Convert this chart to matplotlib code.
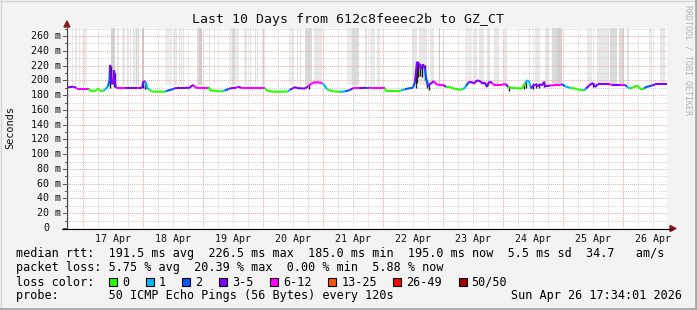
import numpy as np
import matplotlib
matplotlib.use('Agg')
import matplotlib.pyplot as plt
from matplotlib.collections import LineCollection
from matplotlib.patches import Rectangle, Polygon
from matplotlib.transforms import blended_transform_factory

W, H = 697, 310
MONO = 'DejaVu Sans Mono'

# hours since Apr 16 17:34, median rtt in ms, loss class index
rtt_hours = [0.0, 2.7, 3.6, 4.0, 8.7, 9.3, 11.1, 11.6, 12.0, 12.6, 13.3, 14.7, 15.3, 16.4,
             17.0, 17.2, 17.6, 18.4, 18.8, 19.2, 19.6, 21.6, 23.2, 23.6, 28.0, 28.8, 30.0,
             30.6, 31.4, 32.0, 32.8, 34.0, 39.2, 39.6, 42.7, 43.2, 49.2, 50.0, 50.8, 51.4,
             56.4, 56.8, 57.2, 58.0, 61.2, 62.4, 63.2, 64.8, 65.6, 67.6, 68.4, 69.6, 71.2,
             79.2, 80.0, 83.2, 88.4, 89.2, 90.4, 91.2, 92.0, 95.2, 96.4, 97.6, 98.4, 100.4,
             102.0, 102.8, 104.0, 106.0, 109.2, 111.2, 113.2, 114.4, 116.8, 119.6, 120.8,
             123.2, 127.2, 127.6, 132.4, 133.6, 135.2, 136.4, 138.4, 139.2, 140.0, 140.8,
             141.6, 142.4, 143.2, 143.8, 144.4, 145.2, 146.0, 146.8, 147.6, 149.2, 150.8,
             151.6, 152.8, 155.2, 157.2, 158.4, 159.6, 160.4, 161.6, 162.8, 164.0, 165.2,
             166.4, 167.2, 168.0, 168.8, 170.0, 170.8, 173.2, 174.4, 175.6, 176.4, 177.2,
             182.0, 183.2, 184.0, 184.8, 185.6, 186.4, 187.6, 188.4, 189.2, 190.0, 190.8,
             191.2, 193.2, 194.8, 197.2, 198.0, 199.2, 201.2, 203.2, 205.2, 206.8, 207.6,
             208.8, 210.4, 211.2, 212.4, 216.8, 218.0, 221.2, 223.2, 224.0, 225.2, 226.4,
             228.0, 229.2, 230.8, 231.6, 234.0, 235.2, 240.0]
rtt_ms = [190.5, 191.5, 190, 189, 189, 186, 185.5, 186.5, 188.5, 188, 185.5, 186, 188, 192,
          200, 221, 198, 195, 214, 196, 190, 189.5, 189.5, 190, 190, 189.5, 190,
          199, 198, 190, 188, 185, 184.5, 185.5, 188.5, 189.5, 190, 193.5, 193, 190,
          189.5, 191, 186, 186.5, 185, 185.5, 186.5, 188.5, 189.5, 190, 191.5, 190, 189.5,
          189.5, 186, 184.5, 185, 187.5, 189.5, 191, 189.5, 189, 192, 195, 197, 197.5,
          196.5, 194, 188, 185.5, 184.5, 185, 187, 189.5, 189.5, 190, 190,
          189.5, 189.5, 185, 185, 186.5, 188, 189, 190, 198, 225, 223,
          215, 222, 215, 200, 192, 195, 197, 199, 195, 193.5, 193.5,
          191, 191, 188.5, 187.5, 188, 192, 197, 198, 196, 200, 199,
          195.5, 197, 191, 198, 197, 193.5, 193.5, 194.5, 195, 191, 190,
          189, 196, 200, 199, 189, 193, 194.5, 192, 195, 193, 198,
          192, 193, 193.5, 193.5, 195, 192, 190, 189, 187, 186.5, 189,
          193, 196.5, 191, 195, 195, 194, 194, 194, 191.5, 189, 190.5,
          193, 189, 189, 191, 193, 194.5, 194.5]
rtt_loss = [3, 3, 3, 4, 4, 0, 0, 0, 0, 0, 0, 0, 1, 1,
            2, 2, 3, 3, 3, 3, 3, 4, 4, 3, 3, 4, 3,
            3, 3, 1, 1, 0, 0, 1, 2, 3, 3, 3, 3, 4,
            4, 3, 0, 0, 0, 0, 1, 2, 3, 3, 4, 3, 4,
            4, 0, 0, 0, 1, 3, 3, 3, 3, 3, 4, 4, 4,
            4, 1, 1, 0, 0, 1, 2, 3, 4, 3, 2,
            4, 4, 0, 0, 0, 1, 2, 2, 2, 3, 3,
            3, 3, 3, 2, 2, 3, 3, 3, 4, 4, 4,
            3, 0, 0, 0, 0, 1, 2, 3, 3, 3, 3,
            3, 3, 3, 3, 3, 4, 4, 4, 4, 3, 0,
            0, 0, 1, 1, 1, 3, 3, 3, 3, 3, 3,
            3, 3, 4, 4, 4, 2, 1, 0, 0, 0, 1,
            3, 3, 3, 3, 3, 4, 3, 4, 2, 1, 0,
            0, 0, 0, 2, 2, 3, 3]

loss_labels = ['0', '1', '2', '3-5', '6-12', '13-25', '26-49', '50/50']
loss_colors = ['#26ff00', '#00b8ff', '#0059ff', '#7e00ff', '#ff00ff', '#ff5500', '#ff0000', '#a10000']

# smoke stripes reaching past the top: start hour, end hour, grey level
smoke_start = [1.8, 3.3, 4.7, 6.7, 17.6, 20.0, 22.0, 24.0, 25.2, 26.2, 26.7, 27.6, 28.4, 30.0,
               39.3, 42.7, 44.7, 45.6, 46.4, 52.0, 52.8, 56.7, 58.7, 64.7, 66.0, 70.7, 73.3,
               74.2, 75.0, 76.0, 78.0, 88.7, 92.0, 93.0, 95.3, 98.7, 112.0, 114.0, 119.3,
               121.3, 124.0, 138.0, 140.7, 145.3, 148.7, 159.3, 162.7, 164.7, 168.0, 170.7,
               174.7, 184.7, 187.3, 191.3, 194.0, 196.0, 208.0, 212.0, 217.3, 220.7, 224.0,
               232.7, 237.3]
smoke_end = [2.2, 4.1, 5.0, 8.0, 19.2, 20.9, 23.3, 24.4, 25.6, 26.6, 28.9, 28.0, 28.8, 30.8,
             42.0, 44.0, 45.1, 46.0, 46.8, 54.0, 54.0, 57.1, 59.1, 68.7, 67.2, 72.0, 73.7,
             74.6, 75.4, 76.4, 79.3, 90.7, 92.4, 93.4, 98.0, 102.0, 116.7, 116.7, 120.0,
             123.3, 125.3, 140.0, 144.0, 146.7, 149.3, 162.0, 164.0, 166.7, 169.3, 172.7,
             176.0, 185.3, 189.3, 192.7, 196.0, 198.0, 210.0, 216.7, 220.0, 222.7, 224.7,
             234.0, 239.3]
smoke_grey = [0.91, 0.91, 0.89, 0.92, 0.82, 0.91, 0.91, 0.89, 0.89, 0.89, 0.93, 0.84, 0.84, 0.82,
              0.93, 0.91, 0.89, 0.89, 0.89, 0.87, 0.80, 0.89, 0.91, 0.93, 0.86, 0.91, 0.89,
              0.89, 0.89, 0.89, 0.91, 0.93, 0.89, 0.89, 0.86, 0.91, 0.93, 0.86, 0.89,
              0.92, 0.91, 0.91, 0.91, 0.91, 0.78, 0.93, 0.91, 0.91, 0.91, 0.91,
              0.91, 0.89, 0.91, 0.91, 0.86, 0.82, 0.92, 0.91, 0.86, 0.86, 0.89,
              0.92, 0.91]
smoke_floor = 194

# dense dark smoke near the spikes
dark_hours = [17.0, 17.4, 18.6, 19.0, 30.4, 31.0, 31.6, 96.6, 139.4, 139.8, 140.4, 141.2,
              142.0, 143.0, 143.8, 144.8, 176.6, 182.8, 183.4, 186.4, 187.6, 188.8, 190.7, 210.4]
dark_lo = [190, 196, 191, 193, 190, 189, 190, 189, 190, 196, 205, 206,
           205, 200, 190, 187, 186, 189, 190, 189, 190, 190, 191, 191]
dark_hi = [221, 219, 213, 210, 199, 197, 198, 195, 216, 226, 225, 222,
           222, 221, 200, 196, 193, 197, 199, 196, 196, 195, 199, 196]

day_labels = ['17 Apr', '18 Apr', '19 Apr', '20 Apr', '21 Apr',
              '22 Apr', '23 Apr', '24 Apr', '25 Apr', '26 Apr']
y_values = list(range(0, 261, 20))

title = 'Last 10 Days from 612c8feeec2b to GZ_CT'
line_rtt = 'median rtt:  191.5 ms avg  226.5 ms max  185.0 ms min  195.0 ms now  5.5 ms sd  34.7   am/s'
line_loss = 'packet loss: 5.75 % avg  20.39 % max  0.00 % min  5.88 % now'
line_probe = 'probe:       50 ICMP Echo Pings (56 Bytes) every 120s'
stamp = 'Sun Apr 26 17:34:01 2026'

start_hour = 17 + 34 / 60.0   # clock time at the left edge
span = 240.0
ymax = 271


def fx(x):
    return x / W


def fy(y):
    return 1 - y / H


fig = plt.figure(figsize=(W / 100, H / 100), dpi=100, facecolor='#f3f3f3')
ax = fig.add_axes([fx(67), fy(228), 600 / W, 200 / H])
ax.set_facecolor('white')
ax.set_xlim(0, span)
ax.set_ylim(0, ymax)
for s in ax.spines.values():
    s.set_visible(False)
ax.set_xticks([])
ax.set_yticks([])

# grid
first_mid = 24 - start_hour
h = first_mid - 18
while h < span:
    if h > 0:
        major = abs(((h - first_mid) / 24) - round((h - first_mid) / 24)) < 1e-6
        ax.axvline(h, color='#f2a0a0' if major else '#d4d4d4', lw=0.75,
                   ls=(0, (1, 1)), zorder=2)
    h += 6
for v in range(10, ymax, 10):
    ax.axhline(v, color='#eeaaaa' if v % 20 == 0 else '#d4d4d4', lw=0.75,
               ls=(0, (1, 1)), zorder=2)

# smoke
widths = np.subtract(smoke_end, smoke_start)
ax.bar(smoke_start, 300 - smoke_floor, width=widths, bottom=smoke_floor, align='edge',
       color=[str(g) for g in smoke_grey], linewidth=0, zorder=1)
ax.vlines(dark_hours, dark_lo, dark_hi, color='#1e1e1e', lw=1.0, zorder=3)

# median line coloured by loss
pts = np.column_stack([rtt_hours, rtt_ms])
segs = [pts[i:i + 2] for i in range(len(pts) - 1)]
lc = LineCollection(segs, colors=[loss_colors[c] for c in rtt_loss[1:]], linewidths=1.5,
                    zorder=4, capstyle='butt')
ax.add_collection(lc)

# axes lines and arrows
fig.add_artist(plt.Line2D([fx(67), fx(67)], [fy(228), fy(25)], color='#444444', lw=0.8))
fig.add_artist(plt.Line2D([fx(62), fx(672)], [fy(228.5), fy(228.5)], color='black', lw=0.8))
fig.add_artist(Polygon([[fx(64), fy(27)], [fx(70), fy(27)], [fx(67), fy(21)]],
                       closed=True, transform=fig.transFigure, color='#8b1a1a'))
fig.add_artist(Polygon([[fx(670), fy(225.5)], [fx(670), fy(231.5)], [fx(676), fy(228.5)]],
                       closed=True, transform=fig.transFigure, color='#8b1a1a'))

# y labels and ticks
ty = blended_transform_factory(fig.transFigure, ax.transData)
for v in y_values:
    lab = '%d m' % v if v else '0'
    xr = 61 if v else 49
    ax.text(fx(xr), v, lab, transform=ty, ha='right', va='center', fontsize=7.2,
            family=MONO, color='#111111')
for v in range(0, ymax, 10):
    fig.add_artist(plt.Line2D([fx(63 if v % 20 == 0 else 65), fx(67)],
                              [fy(228 - v * 200 / ymax)] * 2, color='#555555', lw=0.7))

# x labels
tx = blended_transform_factory(ax.transData, fig.transFigure)
for i, lab in enumerate(day_labels):
    ax.text(first_mid + 24 * i + 12, fy(239), lab, transform=tx, ha='center', va='center',
            fontsize=7.2, family=MONO, color='#111111')

fig.text(fx(347.5), fy(19), title, ha='center', va='center', fontsize=9.5, family=MONO,
         color='#111111')
fig.text(fx(10), fy(127.5), 'Seconds', rotation=90, ha='center', va='center', fontsize=7.4,
         family=MONO, color='#111111')
fig.text(fx(688), fy(60), 'RRDTOOL / TOBI OETIKER', rotation=270, ha='center', va='center',
         fontsize=6, family=MONO, color='#b4b4b4')

# legend block
fs = 8.5
cw = 7.12
fig.text(fx(16), fy(254), line_rtt, ha='left', va='center', fontsize=fs, family=MONO)
fig.text(fx(16), fy(268), line_loss, ha='left', va='center', fontsize=fs, family=MONO)
fig.text(fx(16), fy(282), 'loss color:', ha='left', va='center', fontsize=fs, family=MONO)
bx = 109
for lab, col in zip(loss_labels, loss_colors):
    fig.add_artist(Rectangle((fx(bx), fy(286)), 8 / W, 8 / H, transform=fig.transFigure,
                             facecolor=col, edgecolor='black', lw=0.8))
    fig.text(fx(bx + 13), fy(282), lab, ha='left', va='center', fontsize=fs, family=MONO)
    bx += 13 + cw * len(lab) + 16.6
fig.text(fx(16), fy(296), line_probe, ha='left', va='center', fontsize=fs, family=MONO)
fig.text(fx(682), fy(296), stamp, ha='right', va='center', fontsize=fs, family=MONO)

# frame
fig.add_artist(plt.Line2D([0, 1], [fy(0.5)] * 2, color='#d6d6d6', lw=1))
fig.add_artist(plt.Line2D([fx(0.5)] * 2, [0, 1], color='#d6d6d6', lw=1))
fig.add_artist(plt.Line2D([0, 1], [fy(308.5)] * 2, color='#a8a8a8', lw=2))
fig.add_artist(plt.Line2D([fx(695.5)] * 2, [0, 1], color='#a8a8a8', lw=2))

fig.savefig('out.png', dpi=100, facecolor=fig.get_facecolor())
